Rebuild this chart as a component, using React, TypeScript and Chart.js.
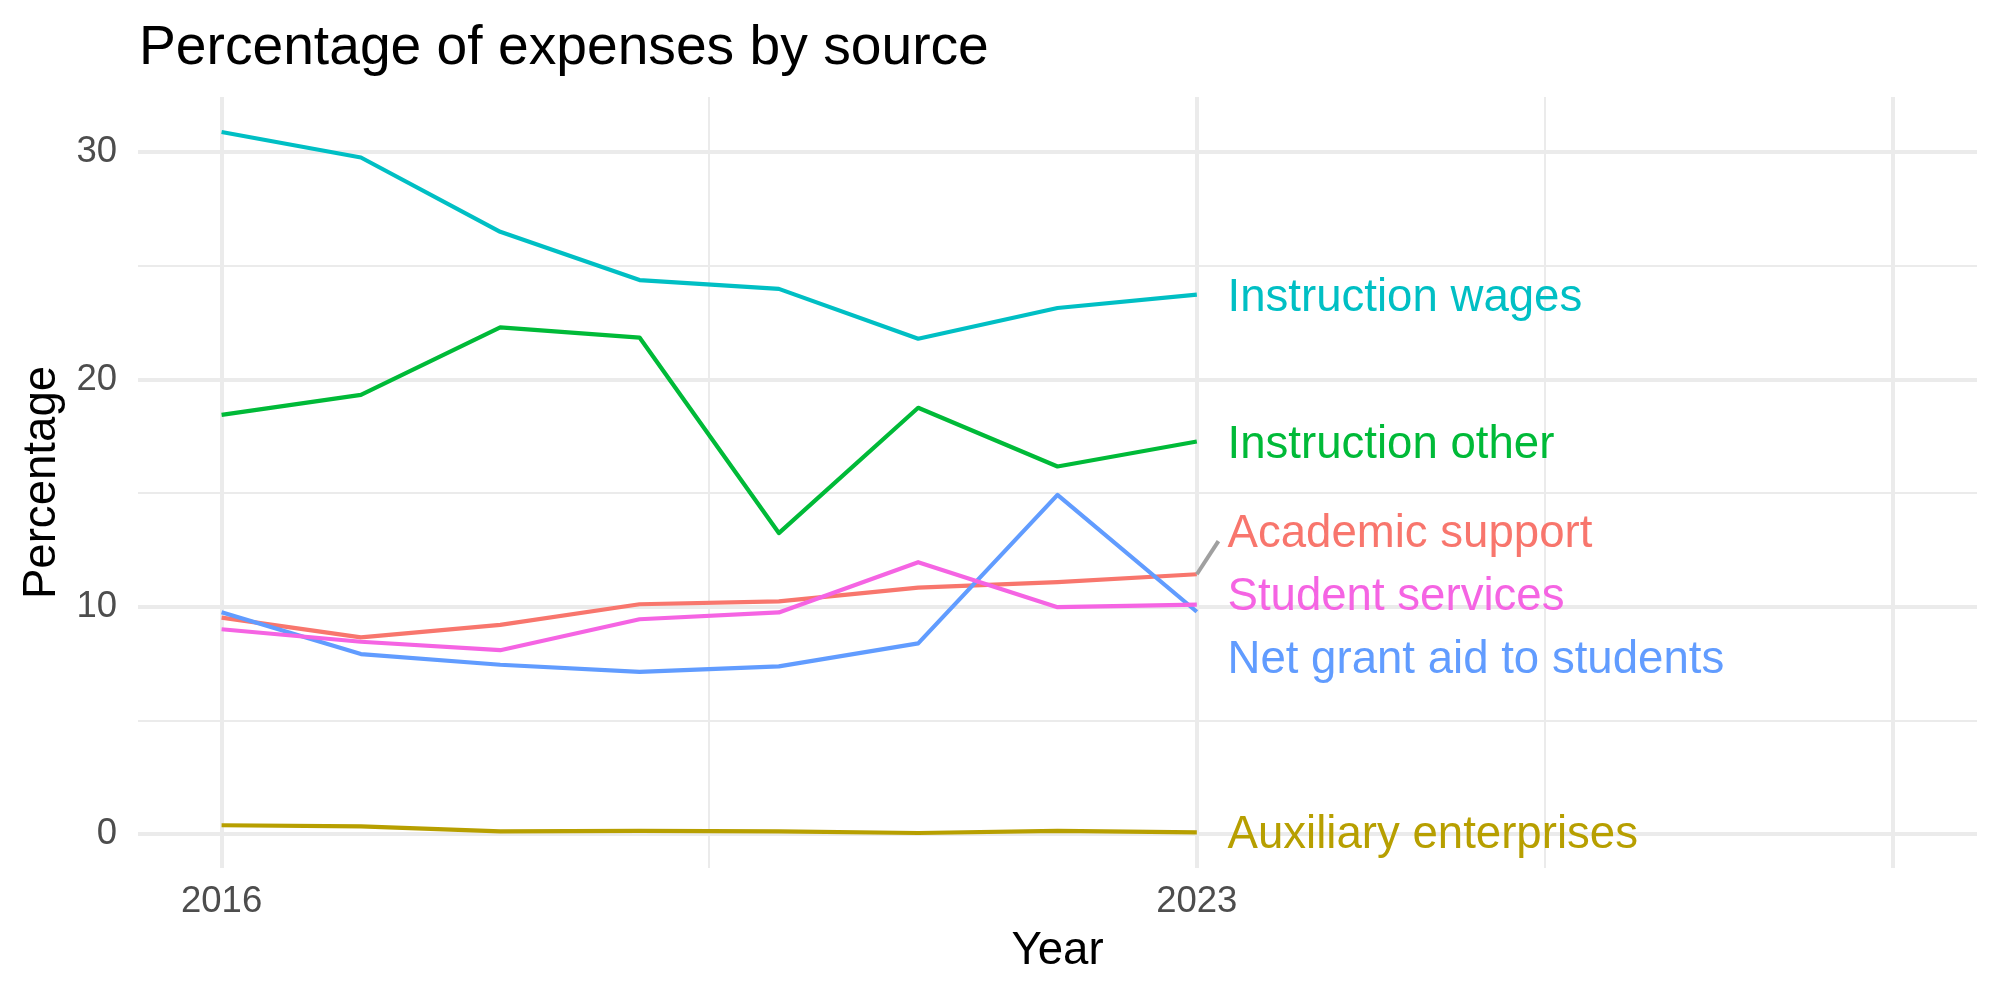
import React, { useEffect, useRef } from "react";
import { Chart, registerables } from "chart.js";

Chart.register(...registerables);

// ---------- data ----------
const YEARS = [2016, 2017, 2018, 2019, 2020, 2021, 2022, 2023];

const SERIES_NAMES = [
  "Academic support",
  "Auxiliary enterprises",
  "Instruction other",
  "Instruction wages",
  "Net grant aid to students",
  "Student services",
];

const ACADEMIC_SUPPORT = [9.53, 8.66, 9.21, 10.12, 10.25, 10.85, 11.09, 11.44];
const AUXILIARY_ENTERPRISES = [0.4, 0.35, 0.13, 0.15, 0.13, 0.06, 0.15, 0.09];
const INSTRUCTION_OTHER = [18.45, 19.33, 22.3, 21.85, 13.25, 18.76, 16.18, 17.28];
const INSTRUCTION_WAGES = [30.89, 29.77, 26.5, 24.38, 23.99, 21.8, 23.15, 23.74];
const NET_GRANT_AID = [9.77, 7.93, 7.46, 7.15, 7.39, 8.4, 14.93, 9.79];
const STUDENT_SERVICES = [9.02, 8.47, 8.1, 9.46, 9.76, 11.97, 9.99, 10.1];

const SERIES_VALUES = [
  ACADEMIC_SUPPORT,
  AUXILIARY_ENTERPRISES,
  INSTRUCTION_OTHER,
  INSTRUCTION_WAGES,
  NET_GRANT_AID,
  STUDENT_SERVICES,
];

const SERIES_COLORS = ["#F8766D", "#B79F00", "#00BA38", "#00BFC4", "#619CFF", "#F564E3"];

// repelled label positions (data units)
const LABEL_X = 2023.22;
const LABEL_Y = [13.35, 0.1, 17.27, 23.74, 7.82, 10.59];
// leader segment for "Academic support" label (end point, data units)
const SEGMENT_SERIES = 0;
const SEGMENT_END = [2023.155, 12.9];

const X_TICKS = [2016, 2019.5, 2023, 2025.5, 2028];
const X_TICK_LABELS = ["2016", "", "2023", "", ""];
const X_MINOR = [2019.5, 2025.5];
const Y_TICKS = [0, 5, 10, 15, 20, 25, 30];
const Y_TICK_LABELS = ["0", "", "10", "", "20", "", "30"];
const Y_MINOR = [5, 15, 25];

const TITLE = "Percentage of expenses by source";
const X_TITLE = "Year";
const Y_TITLE = "Percentage";

const FONT = '"Liberation Sans", Arial, Helvetica, sans-serif';

export default function App() {
  const canvasRef = useRef<HTMLCanvasElement | null>(null);

  useEffect(() => {
    const canvas = canvasRef.current;
    if (!canvas) return;

    const labelsPlugin = {
      id: "seriesLabels",
      afterDatasetsDraw(chart: any) {
        const { ctx, scales } = chart;
        const xs = scales.x;
        const ys = scales.y;
        ctx.save();
        // leader segment
        const vals = SERIES_VALUES[SEGMENT_SERIES];
        ctx.strokeStyle = "#A0A0A0";
        ctx.lineWidth = 4;
        ctx.lineCap = "butt";
        ctx.beginPath();
        ctx.moveTo(xs.getPixelForValue(YEARS[YEARS.length - 1]), ys.getPixelForValue(vals[vals.length - 1]));
        ctx.lineTo(xs.getPixelForValue(SEGMENT_END[0]), ys.getPixelForValue(SEGMENT_END[1]));
        ctx.stroke();
        // labels
        const size = 45.6;
        ctx.font = `${size}px ${FONT}`;
        ctx.textAlign = "left";
        ctx.textBaseline = "alphabetic";
        SERIES_NAMES.forEach((name, i) => {
          ctx.fillStyle = SERIES_COLORS[i];
          const px = xs.getPixelForValue(LABEL_X);
          const py = ys.getPixelForValue(LABEL_Y[i]) + size * 0.358;
          ctx.fillText(name, px, py);
        });
        ctx.restore();
      },
      afterDraw(chart: any) {
        const { ctx, chartArea } = chart;
        ctx.save();
        ctx.font = `55.2px ${FONT}`;
        ctx.fillStyle = "#000000";
        ctx.textAlign = "left";
        ctx.textBaseline = "alphabetic";
        ctx.fillText(TITLE, chartArea.left + 1, 63.5);
        ctx.restore();
      },
    };

    const datasets = SERIES_NAMES.map((name, i) => ({
      label: name,
      data: YEARS.map((yr, j) => ({ x: yr, y: SERIES_VALUES[i][j] })),
      borderColor: SERIES_COLORS[i],
      backgroundColor: SERIES_COLORS[i],
      borderWidth: 4.2,
      pointRadius: 0,
      tension: 0,
      fill: false,
      borderCapStyle: "butt",
      borderJoinStyle: "round",
      order: SERIES_NAMES.length - i,
    }));

    const chart = new Chart(canvas, {
      type: "line",
      data: { datasets },
      plugins: [labelsPlugin],
      options: {
        animation: false,
        responsive: false,
        devicePixelRatio: 1,
        layout: { padding: { top: 97, right: 23, bottom: 0, left: 0 } },
        plugins: {
          legend: { display: false },
          tooltip: { enabled: false },
          title: { display: false },
        },
        scales: {
          x: {
            type: "linear",
            min: 2015.4,
            max: 2028.6,
            afterBuildTicks: (scale: any) => {
              scale.ticks = X_TICKS.map((v) => ({ value: v }));
            },
            afterFit: (scale: any) => {
              scale.height = 132;
            },
            grid: {
              color: "#EBEBEB",
              lineWidth: (c: any) => (c.tick && X_MINOR.includes(c.tick.value) ? 2 : 4),
              drawTicks: false,
            },
            border: { display: false },
            ticks: {
              autoSkip: false,
              maxRotation: 0,
              minRotation: 0,
              padding: 12.5,
              color: "#4D4D4D",
              font: { family: FONT, size: 36.5 },
              callback: (value: any) => {
                const k = X_TICKS.indexOf(Number(value));
                return k >= 0 ? X_TICK_LABELS[k] : "";
              },
            },
            title: {
              display: true,
              text: X_TITLE,
              color: "#000000",
              font: { family: FONT, size: 45.6 },
              padding: { top: 0, bottom: 21.4 },
            },
          },
          y: {
            type: "linear",
            min: -1.48,
            max: 32.43,
            afterBuildTicks: (scale: any) => {
              scale.ticks = Y_TICKS.map((v) => ({ value: v }));
            },
            afterFit: (scale: any) => {
              scale.width = 138;
            },
            grid: {
              color: "#EBEBEB",
              lineWidth: (c: any) => (c.tick && Y_MINOR.includes(c.tick.value) ? 2 : 4),
              drawTicks: false,
            },
            border: { display: false },
            ticks: {
              autoSkip: false,
              padding: 21,
              color: "#4D4D4D",
              font: { family: FONT, size: 36.5 },
              callback: (value: any) => {
                const k = Y_TICKS.indexOf(Number(value));
                return k >= 0 ? Y_TICK_LABELS[k] : "";
              },
            },
            title: {
              display: true,
              text: Y_TITLE,
              color: "#000000",
              font: { family: FONT, size: 45.6 },
              padding: { top: 15, bottom: 0 },
            },
          },
        },
      },
    } as any);

    return () => {
      chart.destroy();
    };
  }, []);

  return (
    <div style={{ position: "absolute", left: 0, top: 0, width: 2000, height: 1000, background: "#ffffff" }}>
      <canvas ref={canvasRef} width={2000} height={1000} style={{ width: 2000, height: 1000, display: "block" }} />
    </div>
  );
}
